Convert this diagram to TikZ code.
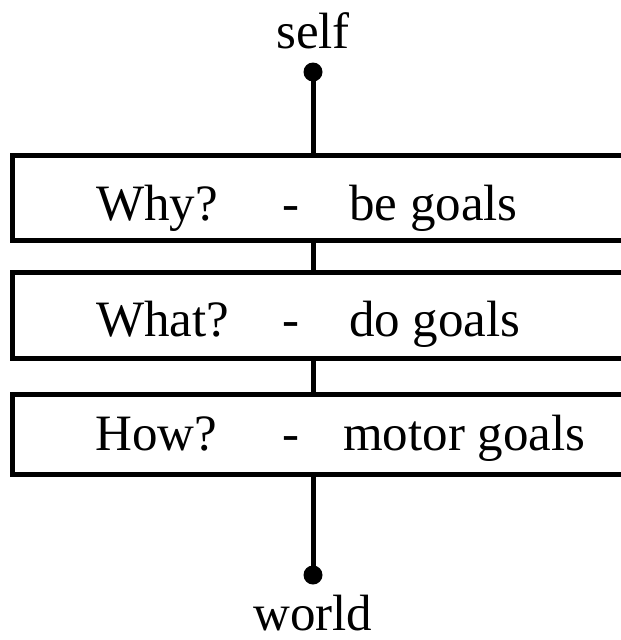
\documentclass[tikz,border=0pt]{standalone}
\usepackage{fontspec}
\setmainfont{Liberation Serif}
\begin{document}
\begin{tikzpicture}[x=1pt,y=-1pt,
  goalbox/.style={draw=black,line width=5pt,fill=white,minimum width=630pt,inner sep=0pt},
  lbl/.style={font=\fontsize{51}{60}\selectfont,inner sep=0pt},
  dotnode/.style={circle,fill=black,minimum size=19pt,inner sep=0pt},
  conn/.style={line width=5pt}]
\useasboundingbox (0,0) rectangle (621,640);
\clip (0,0) rectangle (621,640);
% dots
\node[dotnode] (dtop) at (313,72) {};
\node[dotnode] (dbot) at (313,575) {};
% boxes
\node[goalbox,minimum height=85pt] (b1) at (327,197.5) {};
\node[goalbox,minimum height=86pt] (b2) at (327,315) {};
\node[goalbox,minimum height=80pt] (b3) at (327,434) {};
% connectors
\draw[conn] (dtop.center) -- (b1.north -| dtop);
\draw[conn] (b1.south -| dtop) -- (b2.north -| dtop);
\draw[conn] (b2.south -| dtop) -- (b3.north -| dtop);
\draw[conn] (b3.south -| dtop) -- (dbot.center);
% labels
\node[lbl,anchor=base] (self) at (313,48) {self};
\node[lbl,anchor=base] (world) at (313,630) {world};
\node[lbl,anchor=base west] (q1) at (96,220) {Why?};
\node[lbl,anchor=base] (m1) at (291,220) {-};
\node[lbl,anchor=base west] (a1) at (349,220) {be goals};
\node[lbl,anchor=base west] (q2) at (96,336) {What?};
\node[lbl,anchor=base] (m2) at (291,336) {-};
\node[lbl,anchor=base west] (a2) at (349,336) {do goals};
\node[lbl,anchor=base west] (q3) at (95,450) {How?};
\node[lbl,anchor=base] (m3) at (291,450) {-};
\node[lbl,anchor=base west] (a3) at (343,450) {motor goals};
\end{tikzpicture}
\end{document}
